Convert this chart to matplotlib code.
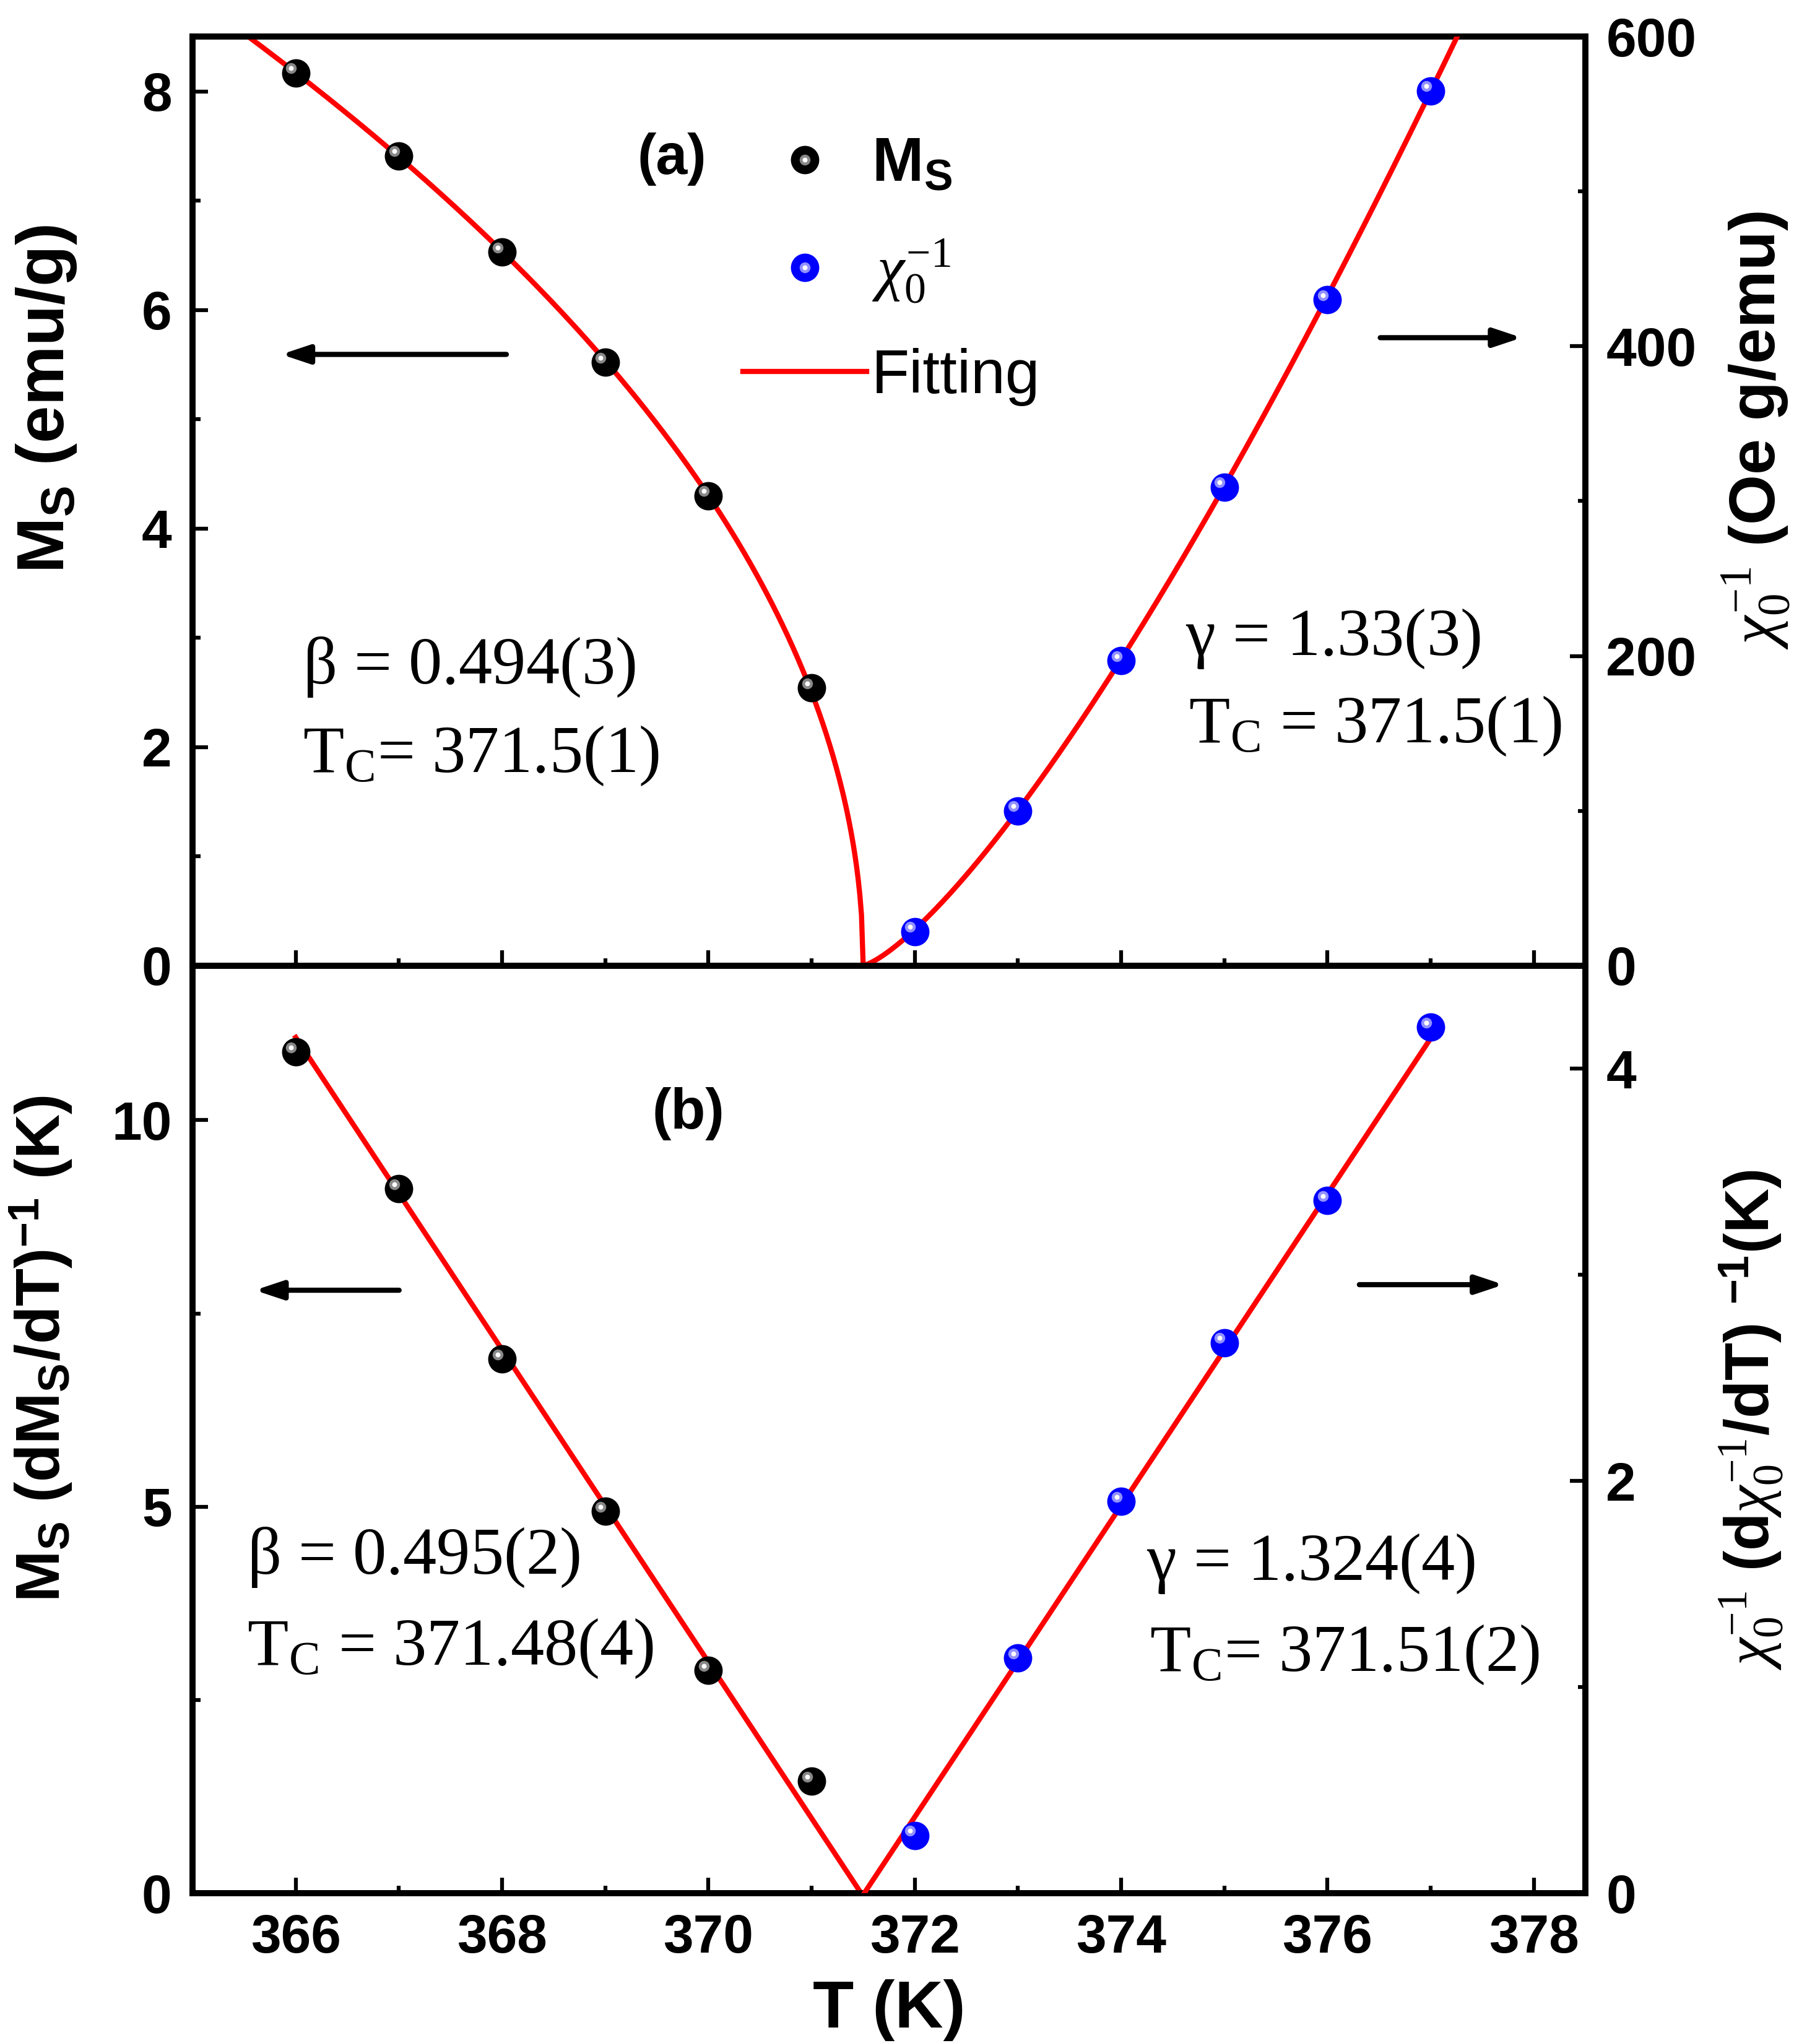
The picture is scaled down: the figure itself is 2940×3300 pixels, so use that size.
import numpy as np
import matplotlib
matplotlib.use('Agg')
import matplotlib.pyplot as plt
from matplotlib.lines import Line2D
from matplotlib.legend_handler import HandlerTuple
from matplotlib.transforms import offset_copy

plt.rcParams['font.family'] = 'Liberation Sans'
plt.rcParams['mathtext.fontset'] = 'custom'
plt.rcParams['mathtext.rm'] = 'Liberation Serif'
plt.rcParams['mathtext.it'] = 'Liberation Serif:italic'
plt.rcParams['mathtext.bf'] = 'Liberation Sans:bold'

# temperatures
T_fm = [366, 367, 368, 369, 370, 371]
T_pm = [372, 373, 374, 375, 376, 377]

# (a) spontaneous magnetisation and inverse susceptibility
Ms = [8.17, 7.41, 6.53, 5.52, 4.30, 2.54]
chi_inv = [22, 100, 197, 309, 430, 565]

# (b) Kouvel-Fisher quantities
kf_Ms = [10.88, 9.11, 6.91, 4.94, 2.88, 1.45]
kf_chi = [0.28, 1.14, 1.90, 2.67, 3.36, 4.20]

# fit parameters (from the annotations)
beta_a, Tc_a_M, M0 = 0.494, 371.5, 3.52
gamma_a, Tc_a_chi, h0 = 1.33, 371.5, 58.5
beta_b, Tc_b_M = 0.495, 371.48
gamma_b, Tc_b_chi = 1.324, 371.51

xticks = [366, 368, 370, 372, 374, 376, 378]


def sphere(ax, x, y, color, mid, fig):
    ax.plot(x, y, 'o', color=color, ms=10, mec=color, zorder=5)
    tr = offset_copy(ax.transData, fig=fig, x=-1.8, y=1.8, units='points')
    ax.plot(x, y, 'o', color=mid, ms=4.2, mec='none', transform=tr, zorder=6)
    ax.plot(x, y, 'o', color='white', ms=1.9, mec='none', transform=tr, zorder=7)


def style(ax):
    for s in ax.spines.values():
        s.set_linewidth(2.3)
    ax.tick_params(which='major', direction='in', length=6, width=1.5,
                   labelsize=21, pad=8)
    ax.tick_params(which='minor', direction='in', length=3, width=1.5)
    for lab in ax.get_xticklabels() + ax.get_yticklabels():
        lab.set_fontweight('bold')


def arrow(ax, x0, x1, y):
    ax.annotate('', xy=(x1, y), xytext=(x0, y), xycoords='axes fraction',
                arrowprops=dict(arrowstyle='-|>,head_length=0.9,head_width=0.3',
                                color='black', lw=2))


fig = plt.figure(figsize=(9.8, 11), dpi=300)
ax1 = fig.add_axes([0.1058, 0.5274, 0.7653, 0.4546])
ax2 = fig.add_axes([0.1058, 0.0733, 0.7653, 0.4541])
ax1r = ax1.twinx()
ax2r = ax2.twinx()

# ---- panel (a)
tf = np.linspace(365.0, Tc_a_M, 400)
ax1.plot(tf, M0 * (Tc_a_M - tf) ** beta_a, color='red', lw=2, zorder=3)
sphere(ax1, T_fm, Ms, 'black', '#888888', fig)
tp = np.linspace(Tc_a_chi, 378.5, 400)
ax1r.plot(tp, h0 * (tp - Tc_a_chi) ** gamma_a, color='red', lw=2, zorder=3)
sphere(ax1r, T_pm, chi_inv, '#0000ff', '#9090ff', fig)

ax1.set_xlim(365, 378.5)
ax1.set_ylim(0, 8.5)
ax1r.set_ylim(0, 600)
ax1.set_xticks(xticks)
ax1.set_xticks(np.arange(365, 379, 1), minor=True)
ax1.set_xticklabels([])
ax1.set_yticks([0, 2, 4, 6, 8])
ax1.set_yticks([1, 3, 5, 7], minor=True)
ax1r.set_yticks([0, 200, 400, 600])
ax1r.set_yticks([100, 300, 500], minor=True)
style(ax1)
style(ax1r)
ax1.set_ylabel(r'$\mathbf{M_S}$ (emu/g)', fontsize=26, fontweight='bold')
ax1r.set_ylabel(r'$\chi_0^{-1}$ (Oe g/emu)', fontsize=25, fontweight='bold')
ax1.yaxis.set_label_coords(-0.082, 0.61)
ax1r.yaxis.set_label_coords(1.097, 0.576)

ax1.text(0.344, 0.868, '(a)', transform=ax1.transAxes, fontsize=22,
         fontweight='bold', ha='center', va='center')
h_ms = (Line2D([], [], ls='none', marker='o', color='black', ms=10),
        Line2D([], [], ls='none', marker='o', color='#888888', ms=4.2, mec='none'),
        Line2D([], [], ls='none', marker='o', color='white', ms=1.9, mec='none'))
h_chi = (Line2D([], [], ls='none', marker='o', color='#0000ff', ms=10),
         Line2D([], [], ls='none', marker='o', color='#9090ff', ms=4.2, mec='none'),
         Line2D([], [], ls='none', marker='o', color='white', ms=1.9, mec='none'))
h_fit = Line2D([], [], color='red', lw=2)
leg = ax1r.legend([h_ms, h_chi, h_fit],
                  [r'$\mathbf{M_S}$', r'$\chi_0^{-1}$', 'Fitting'],
                  handler_map={tuple: HandlerTuple(ndivide=1)},
                  loc='upper left', bbox_to_anchor=(0.355, 0.953), frameon=False,
                  fontsize=24, handlelength=2.0, handletextpad=0.08,
                  labelspacing=0.7)

arrow(ax1, 0.229, 0.060, 0.658)
arrow(ax1, 0.849, 0.958, 0.676)

ax1.text(0.079, 0.321, r'$\mathregular{\beta}$ = 0.494(3)', transform=ax1.transAxes,
         fontsize=26, family='Liberation Serif', va='center')
ax1.text(0.079, 0.226, r'T$_\mathregular{C}$= 371.5(1)', transform=ax1.transAxes,
         fontsize=26, family='Liberation Serif', va='center')
ax1.text(0.713, 0.352, r'$\mathregular{\gamma}$ = 1.33(3)', transform=ax1.transAxes,
         fontsize=26, family='Liberation Serif', va='center')
ax1.text(0.715, 0.258, r'T$_\mathregular{C}$ = 371.5(1)', transform=ax1.transAxes,
         fontsize=26, family='Liberation Serif', va='center')

# ---- panel (b)
ax2.plot([T_fm[0], Tc_b_M], [(Tc_b_M - T_fm[0]) / beta_b, 0], color='red', lw=2, zorder=3)
sphere(ax2, T_fm, kf_Ms, 'black', '#888888', fig)
ax2r.plot([Tc_b_chi, T_pm[-1]], [0, (T_pm[-1] - Tc_b_chi) / gamma_b], color='red', lw=2, zorder=3)
sphere(ax2r, T_pm, kf_chi, '#0000ff', '#9090ff', fig)

ax2.set_xlim(365, 378.5)
ax2.set_ylim(0, 12)
ax2r.set_ylim(0, 4.5)
ax2.set_xticks(xticks)
ax2.set_xticks(np.arange(365, 379, 1), minor=True)
ax2.set_yticks([0, 5, 10])
ax2.set_yticks([2.5, 7.5], minor=True)
ax2r.set_yticks([0, 2, 4])
ax2r.set_yticks([1, 3], minor=True)
style(ax2)
style(ax2r)
ax2.set_xlabel('T (K)', fontsize=26, fontweight='bold', labelpad=6)
ax2.set_ylabel(r'$\mathbf{M_S}$ (d$\mathbf{M_S}$/dT)$^\mathbf{-1}$ (K)', fontsize=24,
               fontweight='bold')
ax2r.set_ylabel(r'$\chi_0^{-1}$ (d$\chi_0^{-1}$/dT) $^\mathbf{-1}$(K)', fontsize=24,
                fontweight='bold')
ax2.yaxis.set_label_coords(-0.085, 0.587)
ax2r.yaxis.set_label_coords(1.095, 0.51)

ax2.text(0.356, 0.84, '(b)', transform=ax2.transAxes, fontsize=22,
         fontweight='bold', ha='center', va='center')
arrow(ax2, 0.152, 0.041, 0.650)
arrow(ax2, 0.834, 0.945, 0.656)

ax2.text(0.039, 0.362, r'$\mathregular{\beta}$ = 0.495(2)', transform=ax2.transAxes,
         fontsize=26, family='Liberation Serif', va='center')
ax2.text(0.039, 0.264, r'T$_\mathregular{C}$ = 371.48(4)', transform=ax2.transAxes,
         fontsize=26, family='Liberation Serif', va='center')
ax2.text(0.685, 0.355, r'$\mathregular{\gamma}$ = 1.324(4)', transform=ax2.transAxes,
         fontsize=26, family='Liberation Serif', va='center')
ax2.text(0.687, 0.257, r'T$_\mathregular{C}$= 371.51(2)', transform=ax2.transAxes,
         fontsize=26, family='Liberation Serif', va='center')

fig.savefig('out.png', dpi=300)
